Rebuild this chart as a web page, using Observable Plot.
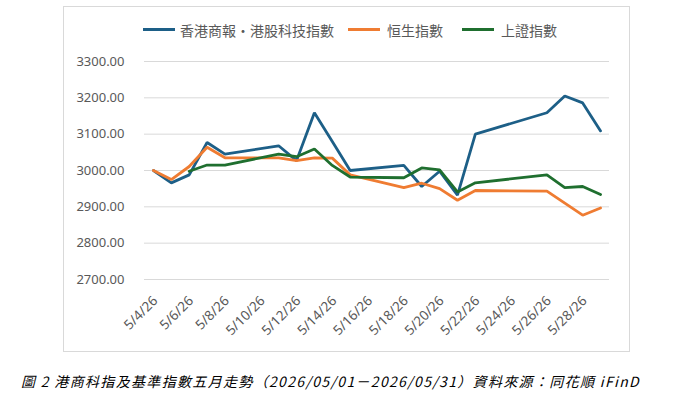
<!DOCTYPE html>
<html><head><meta charset="utf-8">
<script src="https://cdn.jsdelivr.net/npm/d3@7"></script>
<script src="https://cdn.jsdelivr.net/npm/@observablehq/plot@0.6"></script>
<style>
body{margin:0;background:#fff;width:674px;height:402px;position:relative;overflow:hidden;font-family:"Noto Sans CJK TC","Noto Sans",sans-serif;}
#frame{position:absolute;left:63px;top:6px;width:565px;height:344px;border:1px solid #d9d9d9;}
.sw{position:absolute;height:3px;width:32px;top:21px;}
.lt{position:absolute;top:13px;font-size:14px;line-height:20px;color:#595959;white-space:nowrap;}
#chart{position:absolute;left:0;top:39px;}
#caption{position:absolute;left:21px;top:371px;font-style:italic;font-size:14px;line-height:20px;color:#000;white-space:nowrap;}
</style></head>
<body>
<div id="frame">
  <div id="legend"></div>
  <div id="chart"></div>
</div>
<div id="caption">圖 2 港商科指及基準指數五月走勢（2026/05/01－2026/05/31）資料來源：同花順 iFinD</div>
<script>
const dates = ["2026-05-04","2026-05-05","2026-05-06","2026-05-07","2026-05-08",
  "2026-05-11","2026-05-12","2026-05-13","2026-05-14","2026-05-15",
  "2026-05-18","2026-05-19","2026-05-20","2026-05-21","2026-05-22",
  "2026-05-26","2026-05-27","2026-05-28","2026-05-29"];
const seriesNames = ["香港商報•港股科技指數", "恒生指數", "上證指數"];
const seriesColors = ["#1d5f87", "#ef7c32", "#1f6f2f"];
const hkTech = [3000, 2966, 2988, 3077, 3045, 3068, 3027, 3159, 3080, 3000,
  3014, 2956, 2998, 2932, 3100, 3159, 3205, 3186, 3109];
const hsi = [3000, 2975, 3011, 3064, 3035, 3035, 3027, 3035, 3034, 2988,
  2953, 2965, 2950, 2918, 2945, 2943, 2910, 2877, 2897];
const sse = [null, null, 2998, 3015, 3015, 3045, 3038, 3059, 3014, 2982,
  2980, 3007, 3002, 2941, 2966, 2988, 2953, 2956, 2934];
const xTickLabels = ["5/4/26","5/6/26","5/8/26","5/10/26","5/12/26","5/14/26","5/16/26",
  "5/18/26","5/20/26","5/22/26","5/24/26","5/26/26","5/28/26"];
const yTicks = [2700, 2800, 2900, 3000, 3100, 3200, 3300];

const parse = d3.utcParse("%Y-%m-%d");
const parseTick = d3.utcParse("%m/%d/%y");
const xTickDates = xTickLabels.map(parseTick);
const allValues = [hkTech, hsi, sse];
const rows = allValues.flatMap((vals, s) =>
  dates.map((d, i) => ({date: parse(d), value: vals[i], name: seriesNames[s]})))
  .filter(r => r.value != null);

// legend
const legend = document.getElementById("legend");
const legendPos = [[79, 116], [284, 323], [398, 437]];
seriesNames.forEach((n, i) => {
  const sw = document.createElement("div");
  sw.className = "sw"; sw.style.left = legendPos[i][0] + "px"; sw.style.background = seriesColors[i];
  const t = document.createElement("div");
  t.className = "lt"; t.style.left = legendPos[i][1] + "px"; t.textContent = n;
  legend.appendChild(sw); legend.appendChild(t);
});

const fmtTick = d3.utcFormat("%-m/%-d/%y");
const chart = Plot.plot({
  width: 565, height: 304,
  marginLeft: 80, marginRight: 20, marginTop: 15, marginBottom: 71,
  style: {fontFamily: "'Noto Sans','Open Sans',sans-serif", fontSize: "13px", color: "#595959", background: "transparent"},
  x: {type: "utc", domain: [new Date(Date.UTC(2026,4,3,12)), new Date(Date.UTC(2026,4,29,12))]},
  y: {domain: [2700, 3300]},
  color: {domain: seriesNames, range: seriesColors},
  marks: [
    Plot.gridY(yTicks, {stroke: "#d9d9d9", strokeOpacity: 1, strokeWidth: 1}),
    Plot.axisY(yTicks, {tickSize: 0, tickPadding: 20, tickFormat: d => d.toFixed(2), fill: "#595959", fontSize: 13, label: null}),
    Plot.axisX(xTickDates, {tickSize: 0, tickPadding: 19, dx: 2, tickRotate: -45, tickFormat: fmtTick, fill: "#595959", fontSize: 13.5, label: null}),
    ...seriesNames.map(n => Plot.line(rows.filter(r => r.name === n), {x: "date", y: "value", stroke: "name", strokeWidth: 2.8, curve: "linear", strokeLinejoin: "miter"}))
  ]
});
document.getElementById("chart").appendChild(chart);

// fit caption width to reference span
const cap = document.getElementById("caption");
const w = cap.getBoundingClientRect().width;
const n = cap.textContent.length;
cap.style.letterSpacing = ((619 - w) / n) + "px";
</script>
</body></html>
